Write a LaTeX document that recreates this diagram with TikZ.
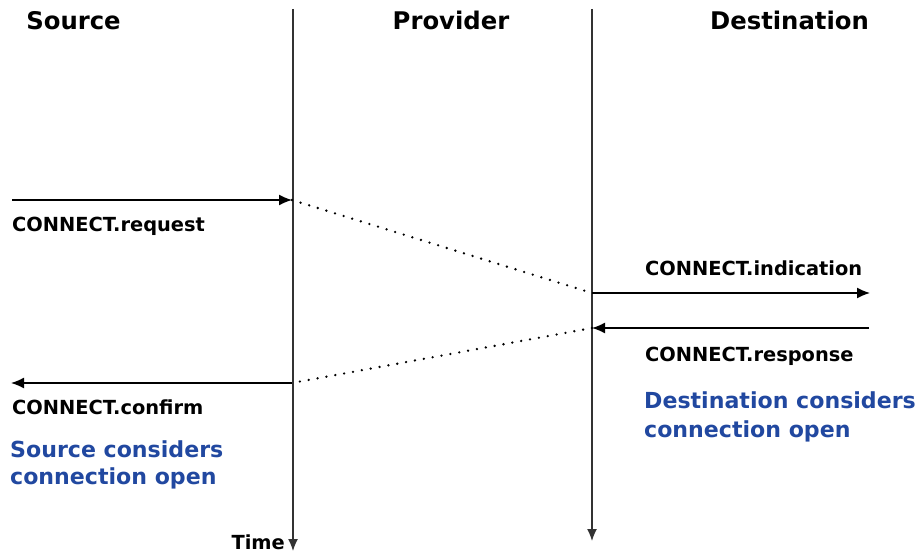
\documentclass[tikz,border=0pt]{standalone}
\usepackage{fontspec}
\setmainfont{DejaVu Sans}
\usetikzlibrary{arrows.meta}
\definecolor{noteblue}{HTML}{2148A0}
\definecolor{lifegrey}{HTML}{333333}
\begin{document}
\begin{tikzpicture}[x=1pt,y=-1pt,
  lifeline/.style={draw=lifegrey,line width=1.3pt,-{Latex[length=12pt,width=10pt]}},
  msg/.style={draw=black,line width=1.4pt,-{Latex[length=13pt,width=11pt]}},
  prop/.style={draw=black,line width=2.6pt,line cap=round,dash pattern=on 0pt off 9pt},
  header/.style={inner sep=0pt,anchor=base,font=\fontsize{24.3}{28}\selectfont\bfseries},
  label/.style={inner sep=0pt,anchor=base west,font=\fontsize{19.4}{22}\selectfont\bfseries},
  note/.style={inner sep=0pt,anchor=base west,text=noteblue,font=\fontsize{22.1}{26}\selectfont\bfseries}]
\useasboundingbox (0,0) rectangle (919,553);
% lifelines
\coordinate (l1top) at (293,9);
\coordinate (l1bot) at (293,551);
\coordinate (l2top) at (592,9);
\coordinate (l2bot) at (592,541);
\draw[lifeline] (l1top) -- (l1bot);
\draw[lifeline] (l2top) -- (l2bot);
% headers
\node[header] (hsrc) at (73.5,30) {Source};
\node[header] (hprov) at (451,30) {Provider};
\node[header] (hdst) at (789.5,30) {Destination};
% message points
\coordinate (reqA) at (12,200);
\coordinate (reqB) at (292,200);
\coordinate (indA) at (592,293);
\coordinate (indB) at (870,293);
\coordinate (resA) at (869,328);
\coordinate (resB) at (592,328);
\coordinate (conA) at (292,383);
\coordinate (conB) at (11,383);
\draw[msg] (reqA) -- (reqB);
\draw[msg] (indA) -- (indB);
\draw[msg] (resA) -- (resB);
\draw[msg] (conA) -- (conB);
% propagation through provider
\draw[prop] (reqB) -- (indA);
\draw[prop] (resB) -- (conA);
% labels
\node[label] (lreq) at (12,232) {CONNECT.request};
\node[label] (lind) at (645,276) {CONNECT.indication};
\node[label] (lres) at (645,362) {CONNECT.response};
\node[label] (lcon) at (12,415) {CONNECT.confirm};
\node[note] (ns1) at (10,457) {Source considers};
\node[note] (ns2) at (10,484) {connection open};
\node[note] (nd1) at (644,409) {Destination considers};
\node[note] (nd2) at (644,437) {connection open};
\node[inner sep=0pt,anchor=base east,font=\fontsize{19.4}{22}\selectfont\bfseries] (time) at (285,549) {Time};
\end{tikzpicture}
\end{document}
